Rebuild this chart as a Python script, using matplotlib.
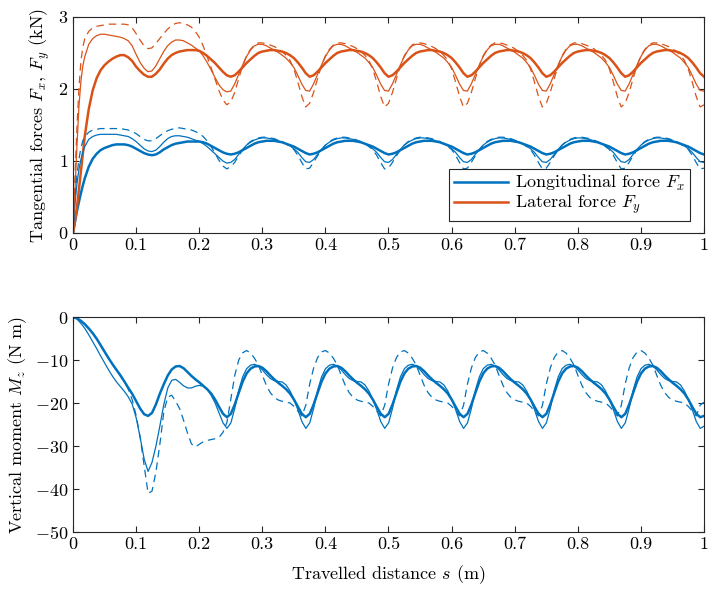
import matplotlib
matplotlib.use("Agg")
import matplotlib.pyplot as plt

# --- data ---
# sample positions along the travelled distance (m)
s_force = [0, 0.003, 0.00625, 0.0094, 0.0125, 0.0156] + \
          [round(0.01875 + 0.00625 * k, 5) for k in range(158)]
s_moment = [0.0] + [round(0.0065 + 0.00625 * k, 5) for k in range(159)] + [1.0]

# lateral force Fy (kN): thick / thin / dashed
fy_thick = [0, 0.15, 0.36, 0.60, 0.85, 1.10, 1.35, 1.72, 1.98, 2.15, 2.26, 2.33, 2.38, 2.42, 2.45, 2.47, 2.47, 2.44, 2.39, 2.31, 2.25, 2.20,
            2.17, 2.17, 2.21, 2.27, 2.35, 2.42, 2.47, 2.50, 2.52, 2.53, 2.54, 2.54, 2.54, 2.53, 2.50, 2.46, 2.41, 2.36, 2.30, 2.24, 2.19, 2.17,
            2.19, 2.24, 2.30, 2.36, 2.41, 2.46, 2.50, 2.52, 2.53, 2.54, 2.54, 2.53, 2.52, 2.50, 2.47, 2.43, 2.37, 2.30, 2.22, 2.17,
            2.19, 2.24, 2.30, 2.36, 2.41, 2.46, 2.50, 2.52, 2.53, 2.54, 2.54, 2.53, 2.52, 2.50, 2.47, 2.43, 2.37, 2.30, 2.22, 2.17,
            2.19, 2.24, 2.30, 2.36, 2.41, 2.46, 2.50, 2.52, 2.53, 2.54, 2.54, 2.53, 2.52, 2.50, 2.47, 2.43, 2.37, 2.30, 2.22, 2.17,
            2.19, 2.24, 2.30, 2.36, 2.41, 2.46, 2.50, 2.52, 2.53, 2.54, 2.54, 2.53, 2.52, 2.50, 2.47, 2.43, 2.37, 2.30, 2.22, 2.17,
            2.19, 2.24, 2.30, 2.36, 2.41, 2.46, 2.50, 2.52, 2.53, 2.54, 2.54, 2.53, 2.52, 2.50, 2.47, 2.43, 2.37, 2.30, 2.22, 2.17,
            2.19, 2.24, 2.30, 2.36, 2.41, 2.46, 2.50, 2.52, 2.53, 2.54, 2.54, 2.53, 2.52, 2.50, 2.47, 2.43, 2.37, 2.30, 2.22, 2.17]
fy_thin = [0, 0.55, 1.20, 1.75, 2.10, 2.32, 2.45, 2.62, 2.70, 2.74, 2.76, 2.76, 2.75, 2.74, 2.73, 2.72, 2.70, 2.67, 2.60, 2.48, 2.37, 2.29,
           2.24, 2.25, 2.32, 2.42, 2.52, 2.60, 2.65, 2.68, 2.68, 2.67, 2.64, 2.61, 2.57, 2.53, 2.46, 2.37, 2.27, 2.16, 2.06, 1.99, 1.96, 1.97,
           2.07, 2.20, 2.33, 2.45, 2.54, 2.60, 2.62, 2.62, 2.60, 2.57, 2.54, 2.51, 2.47, 2.43, 2.37, 2.30, 2.19, 2.07, 1.98, 1.97,
           2.07, 2.20, 2.33, 2.45, 2.54, 2.60, 2.62, 2.62, 2.60, 2.57, 2.54, 2.51, 2.47, 2.43, 2.37, 2.30, 2.19, 2.07, 1.98, 1.97,
           2.07, 2.20, 2.33, 2.45, 2.54, 2.60, 2.62, 2.62, 2.60, 2.57, 2.54, 2.51, 2.47, 2.43, 2.37, 2.30, 2.19, 2.07, 1.98, 1.97,
           2.07, 2.20, 2.33, 2.45, 2.54, 2.60, 2.62, 2.62, 2.60, 2.57, 2.54, 2.51, 2.47, 2.43, 2.37, 2.30, 2.19, 2.07, 1.98, 1.97,
           2.07, 2.20, 2.33, 2.45, 2.54, 2.60, 2.62, 2.62, 2.60, 2.57, 2.54, 2.51, 2.47, 2.43, 2.37, 2.30, 2.19, 2.07, 1.98, 1.97,
           2.07, 2.20, 2.33, 2.45, 2.54, 2.60, 2.62, 2.62, 2.60, 2.57, 2.54, 2.51, 2.47, 2.43, 2.37, 2.30, 2.19, 2.07, 1.98, 1.97]
fy_dash = [0, 0.75, 1.45, 2.00, 2.38, 2.58, 2.70, 2.80, 2.85, 2.87, 2.88, 2.89, 2.90, 2.90, 2.90, 2.90, 2.90, 2.89, 2.85, 2.77, 2.68, 2.60,
           2.56, 2.57, 2.63, 2.70, 2.77, 2.83, 2.88, 2.91, 2.92, 2.91, 2.89, 2.86, 2.80, 2.72, 2.60, 2.45, 2.30, 2.14, 1.98, 1.85, 1.78, 1.82,
           1.95, 2.14, 2.32, 2.46, 2.55, 2.61, 2.64, 2.64, 2.63, 2.61, 2.59, 2.56, 2.52, 2.47, 2.40, 2.28, 2.10, 1.90, 1.75, 1.80,
           1.95, 2.14, 2.32, 2.46, 2.55, 2.61, 2.64, 2.64, 2.63, 2.61, 2.59, 2.56, 2.52, 2.47, 2.40, 2.28, 2.10, 1.90, 1.75, 1.80,
           1.95, 2.14, 2.32, 2.46, 2.55, 2.61, 2.64, 2.64, 2.63, 2.61, 2.59, 2.56, 2.52, 2.47, 2.40, 2.28, 2.10, 1.90, 1.75, 1.80,
           1.95, 2.14, 2.32, 2.46, 2.55, 2.61, 2.64, 2.64, 2.63, 2.61, 2.59, 2.56, 2.52, 2.47, 2.40, 2.28, 2.10, 1.90, 1.75, 1.80,
           1.95, 2.14, 2.32, 2.46, 2.55, 2.61, 2.64, 2.64, 2.63, 2.61, 2.59, 2.56, 2.52, 2.47, 2.40, 2.28, 2.10, 1.90, 1.75, 1.80,
           1.95, 2.14, 2.32, 2.46, 2.55, 2.61, 2.64, 2.64, 2.63, 2.61, 2.59, 2.56, 2.52, 2.47, 2.40, 2.28, 2.10, 1.90, 1.75, 1.78]

# longitudinal force Fx (kN): thick / thin / dashed
fx_thick = [0, 0.15, 0.30, 0.43, 0.55, 0.66, 0.76, 0.92, 1.03, 1.10, 1.15, 1.18, 1.20, 1.22, 1.23, 1.23, 1.23, 1.22, 1.20, 1.17, 1.14, 1.11,
            1.09, 1.08, 1.09, 1.12, 1.16, 1.19, 1.22, 1.24, 1.25, 1.26, 1.27, 1.27, 1.27, 1.27, 1.26, 1.24, 1.21, 1.18, 1.15, 1.12, 1.10, 1.09,
            1.10, 1.12, 1.15, 1.18, 1.21, 1.24, 1.26, 1.27, 1.28, 1.28, 1.28, 1.27, 1.26, 1.24, 1.22, 1.20, 1.17, 1.14, 1.11, 1.09,
            1.10, 1.12, 1.15, 1.18, 1.21, 1.24, 1.26, 1.27, 1.28, 1.28, 1.28, 1.27, 1.26, 1.24, 1.22, 1.20, 1.17, 1.14, 1.11, 1.09,
            1.10, 1.12, 1.15, 1.18, 1.21, 1.24, 1.26, 1.27, 1.28, 1.28, 1.28, 1.27, 1.26, 1.24, 1.22, 1.20, 1.17, 1.14, 1.11, 1.09,
            1.10, 1.12, 1.15, 1.18, 1.21, 1.24, 1.26, 1.27, 1.28, 1.28, 1.28, 1.27, 1.26, 1.24, 1.22, 1.20, 1.17, 1.14, 1.11, 1.09,
            1.10, 1.12, 1.15, 1.18, 1.21, 1.24, 1.26, 1.27, 1.28, 1.28, 1.28, 1.27, 1.26, 1.24, 1.22, 1.20, 1.17, 1.14, 1.11, 1.09,
            1.10, 1.12, 1.15, 1.18, 1.21, 1.24, 1.26, 1.27, 1.28, 1.28, 1.28, 1.27, 1.26, 1.24, 1.22, 1.20, 1.17, 1.14, 1.11, 1.09]
fx_thin = [0, 0.40, 0.68, 0.88, 1.02, 1.12, 1.20, 1.30, 1.34, 1.36, 1.37, 1.37, 1.37, 1.37, 1.37, 1.36, 1.35, 1.34, 1.31, 1.27, 1.22, 1.17,
           1.14, 1.13, 1.15, 1.20, 1.26, 1.31, 1.34, 1.35, 1.35, 1.34, 1.33, 1.31, 1.29, 1.27, 1.24, 1.20, 1.15, 1.10, 1.05, 1.00, 0.97, 0.98,
           1.02, 1.09, 1.16, 1.22, 1.26, 1.29, 1.31, 1.32, 1.32, 1.31, 1.30, 1.28, 1.26, 1.24, 1.21, 1.17, 1.12, 1.05, 0.99, 0.98,
           1.02, 1.09, 1.16, 1.22, 1.26, 1.29, 1.31, 1.32, 1.32, 1.31, 1.30, 1.28, 1.26, 1.24, 1.21, 1.17, 1.12, 1.05, 0.99, 0.98,
           1.02, 1.09, 1.16, 1.22, 1.26, 1.29, 1.31, 1.32, 1.32, 1.31, 1.30, 1.28, 1.26, 1.24, 1.21, 1.17, 1.12, 1.05, 0.99, 0.98,
           1.02, 1.09, 1.16, 1.22, 1.26, 1.29, 1.31, 1.32, 1.32, 1.31, 1.30, 1.28, 1.26, 1.24, 1.21, 1.17, 1.12, 1.05, 0.99, 0.98,
           1.02, 1.09, 1.16, 1.22, 1.26, 1.29, 1.31, 1.32, 1.32, 1.31, 1.30, 1.28, 1.26, 1.24, 1.21, 1.17, 1.12, 1.05, 0.99, 0.98,
           1.02, 1.09, 1.16, 1.22, 1.26, 1.29, 1.31, 1.32, 1.32, 1.31, 1.30, 1.28, 1.26, 1.24, 1.21, 1.17, 1.12, 1.05, 0.99, 0.98]
fx_dash = [0, 0.45, 0.80, 1.02, 1.18, 1.28, 1.34, 1.40, 1.43, 1.44, 1.45, 1.45, 1.45, 1.45, 1.45, 1.45, 1.44, 1.43, 1.41, 1.38, 1.34, 1.30,
           1.28, 1.28, 1.31, 1.35, 1.39, 1.42, 1.44, 1.45, 1.46, 1.45, 1.44, 1.43, 1.41, 1.38, 1.34, 1.28, 1.20, 1.11, 1.01, 0.93, 0.89, 0.92,
           0.98, 1.07, 1.15, 1.22, 1.27, 1.30, 1.32, 1.33, 1.33, 1.32, 1.31, 1.29, 1.27, 1.24, 1.20, 1.16, 1.08, 0.98, 0.89, 0.90,
           0.98, 1.07, 1.15, 1.22, 1.27, 1.30, 1.32, 1.33, 1.33, 1.32, 1.31, 1.29, 1.27, 1.24, 1.20, 1.16, 1.08, 0.98, 0.89, 0.90,
           0.98, 1.07, 1.15, 1.22, 1.27, 1.30, 1.32, 1.33, 1.33, 1.32, 1.31, 1.29, 1.27, 1.24, 1.20, 1.16, 1.08, 0.98, 0.89, 0.90,
           0.98, 1.07, 1.15, 1.22, 1.27, 1.30, 1.32, 1.33, 1.33, 1.32, 1.31, 1.29, 1.27, 1.24, 1.20, 1.16, 1.08, 0.98, 0.89, 0.90,
           0.98, 1.07, 1.15, 1.22, 1.27, 1.30, 1.32, 1.33, 1.33, 1.32, 1.31, 1.29, 1.27, 1.24, 1.20, 1.16, 1.08, 0.98, 0.89, 0.90,
           0.98, 1.07, 1.15, 1.22, 1.27, 1.30, 1.32, 1.33, 1.33, 1.32, 1.31, 1.29, 1.27, 1.24, 1.20, 1.16, 1.08, 0.98, 0.89, 0.90]

# vertical moment Mz (N m): thick / thin / dashed
mz_thick = [0, -0.3, -0.9, -1.7, -2.7, -3.8, -5.1, -6.6, -8.1, -9.6, -11.0, -12.3, -13.6, -15.0, -16.5, -17.9, -19.6, -21.3, -22.6, -23.0,
            -22.3, -20.3, -17.8, -15.6, -13.6, -12.2, -11.5, -11.4, -11.9, -12.8, -13.7, -14.5, -15.2, -16.0, -16.8, -17.8, -19.2, -20.9, -22.5, -23.3,
            -22.5, -20.3, -17.6, -15.0, -13.1, -12.0, -11.5, -11.4, -11.8, -12.6, -13.6, -14.5, -15.3, -16.0, -16.8, -17.8, -19.2, -20.9, -22.5, -23.3,
            -22.5, -20.3, -17.6, -15.0, -13.1, -12.0, -11.5, -11.4, -11.8, -12.6, -13.6, -14.5, -15.3, -16.0, -16.8, -17.8, -19.2, -20.9, -22.5, -23.3,
            -22.5, -20.3, -17.6, -15.0, -13.1, -12.0, -11.5, -11.4, -11.8, -12.6, -13.6, -14.5, -15.3, -16.0, -16.8, -17.8, -19.2, -20.9, -22.5, -23.3,
            -22.5, -20.3, -17.6, -15.0, -13.1, -12.0, -11.5, -11.4, -11.8, -12.6, -13.6, -14.5, -15.3, -16.0, -16.8, -17.8, -19.2, -20.9, -22.5, -23.3,
            -22.5, -20.3, -17.6, -15.0, -13.1, -12.0, -11.5, -11.4, -11.8, -12.6, -13.6, -14.5, -15.3, -16.0, -16.8, -17.8, -19.2, -20.9, -22.5, -23.3,
            -22.5, -20.3, -17.6, -15.0, -13.1, -12.0, -11.5, -11.4, -11.8, -12.6, -13.6, -14.5, -15.3, -16.0, -16.8, -17.8, -19.2, -20.9, -22.5, -23.3,
            -23.0]
mz_thin = [0, -0.5, -1.5, -2.7, -4.2, -5.8, -7.4, -9.1, -10.7, -12.3, -13.8, -15.1, -16.2, -17.3, -18.6, -20.3, -23.5, -28.0, -33.0, -35.9,
           -33.8, -30.0, -25.3, -20.3, -16.5, -14.7, -14.5, -15.2, -16.0, -16.5, -16.5, -16.1, -15.9, -16.1, -16.8, -18.2, -20.0, -22.3, -24.6, -25.9,
           -24.6, -21.2, -17.0, -13.9, -12.0, -11.2, -11.0, -11.4, -12.3, -13.4, -14.3, -14.8, -15.0, -15.1, -15.8, -17.2, -19.2, -21.6, -24.3, -25.9,
           -24.6, -21.2, -17.0, -13.9, -12.0, -11.2, -11.0, -11.4, -12.3, -13.4, -14.3, -14.8, -15.0, -15.1, -15.8, -17.2, -19.2, -21.6, -24.3, -25.9,
           -24.6, -21.2, -17.0, -13.9, -12.0, -11.2, -11.0, -11.4, -12.3, -13.4, -14.3, -14.8, -15.0, -15.1, -15.8, -17.2, -19.2, -21.6, -24.3, -25.9,
           -24.6, -21.2, -17.0, -13.9, -12.0, -11.2, -11.0, -11.4, -12.3, -13.4, -14.3, -14.8, -15.0, -15.1, -15.8, -17.2, -19.2, -21.6, -24.3, -25.9,
           -24.6, -21.2, -17.0, -13.9, -12.0, -11.2, -11.0, -11.4, -12.3, -13.4, -14.3, -14.8, -15.0, -15.1, -15.8, -17.2, -19.2, -21.6, -24.3, -25.9,
           -24.6, -21.2, -17.0, -13.9, -12.0, -11.2, -11.0, -11.4, -12.3, -13.4, -14.3, -14.8, -15.0, -15.1, -15.8, -17.2, -19.2, -21.6, -24.3, -25.9,
           -25.4]
mz_dash = [0, -0.3, -0.9, -1.7, -2.7, -3.8, -5.1, -6.6, -8.1, -9.6, -11.0, -12.3, -13.6, -15.0, -16.8, -19.3, -23.0, -28.0, -34.5, -41.0,
           -40.5, -36.0, -29.5, -22.0, -18.6, -18.2, -19.6, -21.3, -24.0, -27.0, -29.5, -30.2, -29.6, -29.0, -28.7, -28.5, -28.3, -28.0, -26.8, -24.5,
           -19.0, -13.5, -10.0, -8.3, -7.8, -8.4, -9.6, -11.2, -13.6, -15.9, -17.6, -18.7, -19.3, -19.6, -19.8, -20.0, -20.8, -21.9, -23.0, -20.5,
           -15.5, -11.8, -9.4, -8.1, -7.8, -8.4, -9.6, -11.2, -13.6, -15.9, -17.6, -18.7, -19.3, -19.6, -19.8, -20.0, -20.8, -21.9, -23.0, -20.5,
           -15.5, -11.8, -9.4, -8.1, -7.8, -8.4, -9.6, -11.2, -13.6, -15.9, -17.6, -18.7, -19.3, -19.6, -19.8, -20.0, -20.8, -21.9, -23.0, -20.5,
           -15.5, -11.8, -9.4, -8.1, -7.8, -8.4, -9.6, -11.2, -13.6, -15.9, -17.6, -18.7, -19.3, -19.6, -19.8, -20.0, -20.8, -21.9, -23.0, -20.5,
           -15.5, -11.8, -9.4, -8.1, -7.8, -8.4, -9.6, -11.2, -13.6, -15.9, -17.6, -18.7, -19.3, -19.6, -19.8, -20.0, -20.8, -21.9, -23.0, -20.5,
           -15.5, -11.8, -9.4, -8.1, -7.8, -8.4, -9.6, -11.2, -13.6, -15.9, -17.6, -18.7, -19.3, -19.6, -19.8, -20.0, -20.8, -21.9, -23.0, -20.5,
           -19.8]

x_ticks = [0, 0.1, 0.2, 0.3, 0.4, 0.5, 0.6, 0.7, 0.8, 0.9, 1]
x_ticklabels = ['0', '0.1', '0.2', '0.3', '0.4', '0.5', '0.6', '0.7', '0.8', '0.9', '1']

# --- style ---
plt.rcParams.update({
    'font.family': 'serif',
    'font.serif': ['cmr10', 'DejaVu Serif'],
    'mathtext.fontset': 'cm',
    'axes.formatter.use_mathtext': True,
    'font.size': 13,
    'axes.linewidth': 0.8,
    'axes.edgecolor': '#262626',
    'xtick.color': '#262626',
    'ytick.color': '#262626',
    'xtick.labelcolor': 'black',
    'ytick.labelcolor': 'black',
    'xtick.direction': 'in',
    'ytick.direction': 'in',
    'xtick.top': True,
    'ytick.right': True,
    'xtick.major.size': 4,
    'ytick.major.size': 4,
    'xtick.major.width': 0.8,
    'ytick.major.width': 0.8,
})

blue = '#0072BD'
orange = '#D95319'
lw_thick = 1.8
lw_thin = 0.9
dash = (0, (6, 4))

fig = plt.figure(figsize=(7.14, 5.91), dpi=100)
ax1 = fig.add_axes([0.1022, 0.6058, 0.8838, 0.3655])
ax2 = fig.add_axes([0.1022, 0.0998, 0.8838, 0.3638])

# top: tangential forces
l1, = ax1.plot(s_force, fx_thick, color=blue, lw=lw_thick)
l2, = ax1.plot(s_force, fy_thick, color=orange, lw=lw_thick)
ax1.plot(s_force, fx_thin, color=blue, lw=lw_thin)
ax1.plot(s_force, fy_thin, color=orange, lw=lw_thin)
ax1.plot(s_force, fx_dash, color=blue, lw=lw_thin, ls=dash)
ax1.plot(s_force, fy_dash, color=orange, lw=lw_thin, ls=dash)
ax1.set_xlim(0, 1)
ax1.set_ylim(0, 3)
ax1.set_xticks(x_ticks)
ax1.set_xticklabels(x_ticklabels)
ax1.set_yticks([0, 1, 2, 3])
ax1.set_ylabel('Tangential forces $F_x$, $F_y$ (kN)')
leg = ax1.legend([l1, l2], ['Longitudinal force $F_x$', 'Lateral force $F_y$'],
                 loc='lower right', bbox_to_anchor=(0.978, 0.056), borderaxespad=0,
                 fancybox=False, framealpha=1, edgecolor='#262626',
                 handlelength=3.0, handletextpad=0.4, labelspacing=0.0,
                 borderpad=0.25, fontsize=13)
leg.get_frame().set_linewidth(0.8)

# bottom: vertical moment
ax2.plot(s_moment, mz_thick, color=blue, lw=lw_thick)
ax2.plot(s_moment, mz_thin, color=blue, lw=lw_thin)
ax2.plot(s_moment, mz_dash, color=blue, lw=lw_thin, ls=dash)
ax2.set_xlim(0, 1)
ax2.set_ylim(-50, 0)
ax2.set_xticks(x_ticks)
ax2.set_xticklabels(x_ticklabels)
ax2.set_yticks([-50, -40, -30, -20, -10, 0])
ax2.set_ylabel('Vertical moment $M_z$ (N m)')
ax2.set_xlabel('Travelled distance $s$ (m)', labelpad=8)

fig.savefig('out.png', dpi=100)
